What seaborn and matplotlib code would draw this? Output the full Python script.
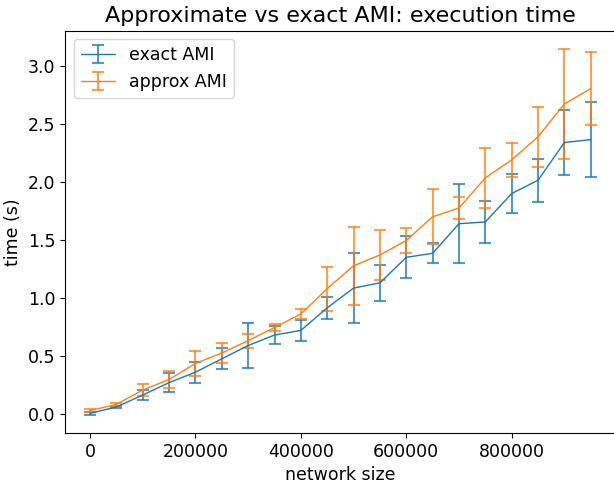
import numpy as np
import pandas as pd
import matplotlib
matplotlib.use("Agg")
import matplotlib.pyplot as plt
import seaborn as sns
from matplotlib.colors import to_rgba

# --- Data ---
network_size = [0, 50000, 100000, 150000, 200000, 250000, 300000, 350000, 400000, 450000,
                500000, 550000, 600000, 650000, 700000, 750000, 800000, 850000, 900000, 950000]

exact_time = [0.005, 0.06, 0.163, 0.27, 0.36, 0.475, 0.59, 0.68, 0.72, 0.915,
              1.085, 1.13, 1.35, 1.385, 1.64, 1.655, 1.90, 2.015, 2.34, 2.365]
exact_err = [0.012, 0.012, 0.04, 0.08, 0.09, 0.09, 0.19, 0.08, 0.09, 0.095,
             0.30, 0.155, 0.18, 0.085, 0.34, 0.185, 0.17, 0.185, 0.28, 0.325]

approx_time = [0.029, 0.082, 0.206, 0.297, 0.435, 0.525, 0.632, 0.745, 0.862, 1.08,
               1.277, 1.37, 1.495, 1.70, 1.775, 2.035, 2.19, 2.39, 2.672, 2.805]
approx_err = [0.015, 0.012, 0.05, 0.075, 0.11, 0.085, 0.06, 0.03, 0.04, 0.19,
              0.335, 0.215, 0.11, 0.235, 0.095, 0.26, 0.145, 0.26, 0.475, 0.315]

df = pd.DataFrame({
    "size": network_size,
    "exact": exact_time, "exact_err": exact_err,
    "approx": approx_time, "approx_err": approx_err,
})

# --- Style ---
sns.set_theme(style="ticks", rc={
    "font.size": 12.5, "axes.titlesize": 16, "axes.labelsize": 12.5,
    "xtick.labelsize": 12.5, "ytick.labelsize": 12.5, "legend.fontsize": 12.5,
    "axes.edgecolor": "black", "axes.linewidth": 0.8,
    "text.color": "black", "axes.labelcolor": "black",
    "xtick.color": "black", "ytick.color": "black",
    "xtick.major.size": 3.5, "ytick.major.size": 3.5,
    "xtick.major.width": 0.8, "ytick.major.width": 0.8,
    "xtick.major.pad": 3.5, "ytick.major.pad": 3.5,
    "axes.labelpad": 4.0, "axes.titlepad": 6.0,
})
plt.rcParams["font.family"] = ["DejaVu Sans"]
colors = sns.color_palette("tab10")

fig = plt.figure(figsize=(6.14, 4.86), dpi=100)
ax = fig.add_axes([0.1059, 0.109, 0.897, 0.828])

for col, label, c in [("exact", "exact AMI", colors[0]), ("approx", "approx AMI", colors[1])]:
    ax.errorbar(df["size"], df[col], yerr=df[col + "_err"], label=label,
                color=c, ecolor=to_rgba(c, 0.75), lw=1.0, elinewidth=1.5,
                capsize=4, capthick=1.5)

ax.set_title("Approximate vs exact AMI: execution time")
ax.set_xlabel("network size")
ax.set_ylabel("time (s)")
ax.ticklabel_format(axis="x", style="plain")
ax.set_yticks([0.0, 0.5, 1.0, 1.5, 2.0, 2.5, 3.0])
ax.legend(loc="upper left")

fig.savefig("out.png", dpi=100)
